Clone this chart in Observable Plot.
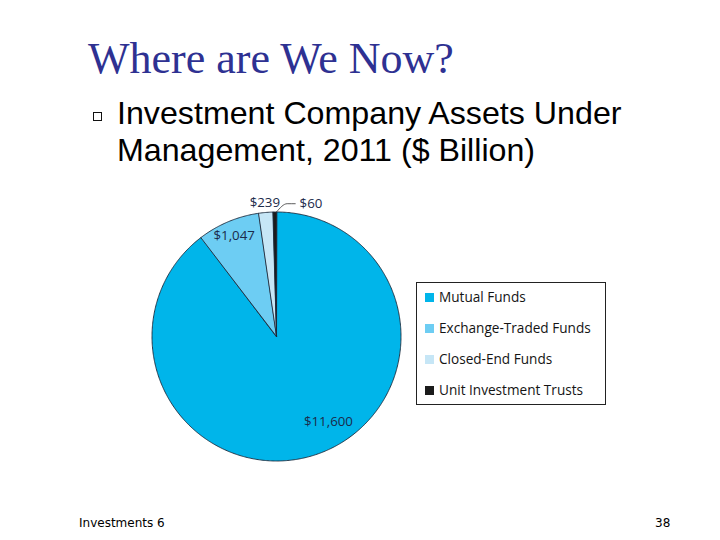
<!DOCTYPE html>
<html><head><meta charset="utf-8">
<script src="https://cdn.jsdelivr.net/npm/d3@7"></script>
<script src="https://cdn.jsdelivr.net/npm/@observablehq/plot@0.6"></script>
<style>
body{margin:0;background:#fff;}
#slide{position:relative;width:720px;height:540px;overflow:hidden;background:#fff;}
.abs{position:absolute;white-space:nowrap;}
#title{left:88px;top:37px;font-family:"Liberation Serif","Times New Roman",serif;font-size:44px;line-height:44px;color:#2e3192;}
#bullet{left:93px;top:112px;width:9px;height:9px;box-sizing:border-box;border:1px solid #111;border-right-width:1.6px;border-bottom-width:1.6px;}
#sub{left:117px;top:95px;font-family:"Liberation Sans",Arial,sans-serif;font-size:32.2px;line-height:37px;color:#000;}
.foot{font-family:"DejaVu Sans",sans-serif;font-size:12px;line-height:14px;top:516px;color:#000;}
#legendBox{left:416px;top:282px;width:190px;height:123px;box-sizing:border-box;border:1.5px solid #222;}
.lsw{position:absolute;width:9px;height:9px;}
.ltx{position:absolute;font-family:"Open Sans",sans-serif;font-size:13.6px;line-height:16px;color:#141414;white-space:nowrap;}
#pie{left:126px;top:186px;}
</style></head><body>
<div id="slide">
  <div id="title" class="abs">Where are We Now?</div>
  <div id="bullet" class="abs"></div>
  <div id="sub" class="abs">Investment Company Assets Under<br>Management, 2011 ($ Billion)</div>
  <div id="pie" class="abs"></div>
  <div id="legendBox" class="abs"></div>
  <div class="abs foot" style="left:79px">Investments 6</div>
  <div class="abs foot" style="left:655px">38</div>
</div>
<script>
const categories = ["Mutual Funds", "Exchange-Traded Funds", "Closed-End Funds", "Unit Investment Trusts"];
const values = [11600, 1047, 239, 60];
const valueLabels = ["$11,600", "$1,047", "$239", "$60"];
const colors = ["#00b5ea", "#6dcdf3", "#c6e6f6", "#1b1b1b"];

const data = categories.map((c, i) => ({category: c, value: values[i], label: valueLabels[i]}));
const arcs = d3.pie().sort(null).value(d => d.value)(data);
const polar = (a, r) => [Math.sin(a) * r, Math.cos(a) * r];

// slice outlines (sampled along each arc)
const slicePts = arcs.flatMap(a => {
  const n = Math.max(2, Math.ceil((a.endAngle - a.startAngle) / 0.01));
  const pts = [{category: a.data.category, x: 0, y: 0}];
  for (let k = 0; k <= n; k++) {
    const t = a.startAngle + (a.endAngle - a.startAngle) * k / n;
    const [x, y] = polar(t, 1);
    pts.push({category: a.data.category, x, y});
  }
  return pts;
});

// label placement (layout only)
const deg = Math.PI / 180;
const placement = {
  "Mutual Funds": {r: 0.8, shift: -12.7 * deg},
  "Exchange-Traded Funds": {r: 0.875, shift: 0},
  "Closed-End Funds": {r: 1.075, shift: 0}
};
const inLabels = arcs.filter(a => placement[a.data.category]).map(a => {
  const p = placement[a.data.category];
  const [x, y] = polar((a.startAngle + a.endAngle) / 2 + p.shift, p.r);
  return {x, y, label: a.data.label};
});
const uit = arcs[arcs.length - 1];
const p0 = polar(uit.endAngle, 1.0);
const p1 = polar(uit.endAngle + 0.08, 1.07);
const leader = [
  {x: p0[0], y: p0[1]},
  {x: p1[0], y: p1[1]},
  {x: p1[0] + 0.065, y: p1[1]}
];
const outLabel = [{x: p1[0] + 0.1, y: p1[1], label: uit.data.label}];

const chart = Plot.plot({
  width: 300, height: 300,
  marginTop: 25.5, marginBottom: 25.5, marginLeft: 25.5, marginRight: 25.5,
  style: {background: "transparent", overflow: "visible"},
  x: {domain: [-1, 1], axis: null},
  y: {domain: [-1, 1], axis: null},
  color: {domain: categories, range: colors},
  marks: [
    Plot.line(slicePts, {x: "x", y: "y", z: "category", fill: "category", stroke: "#1c2a3c", strokeWidth: 0.9, curve: "linear-closed", strokeLinejoin: "round"}),
    Plot.line(leader, {x: "x", y: "y", stroke: "#333", strokeWidth: 0.8, curve: "monotone-x"}),
    Plot.text(inLabels, {x: "x", y: "y", text: "label", fill: "#1b2a4a", fontSize: 13.3, fontFamily: "Open Sans", textAnchor: "middle"}),
    Plot.text(outLabel, {x: "x", y: "y", text: "label", fill: "#1b2a4a", fontSize: 13.3, fontFamily: "Open Sans", textAnchor: "start"})
  ]
});
document.getElementById("pie").appendChild(chart);

// legend
const slide = document.getElementById("slide");
const rowCenters = [297.3, 328.3, 359.2, 390];
categories.forEach((c, i) => {
  const sw = document.createElement("div");
  sw.className = "lsw";
  sw.style.left = "425px";
  sw.style.top = (rowCenters[i] - 4.5) + "px";
  sw.style.background = colors[i];
  slide.appendChild(sw);
  const tx = document.createElement("div");
  tx.className = "ltx";
  tx.style.left = "439px";
  tx.style.top = (rowCenters[i] - 8.5) + "px";
  tx.textContent = c;
  slide.appendChild(tx);
});
</script>
</body></html>
